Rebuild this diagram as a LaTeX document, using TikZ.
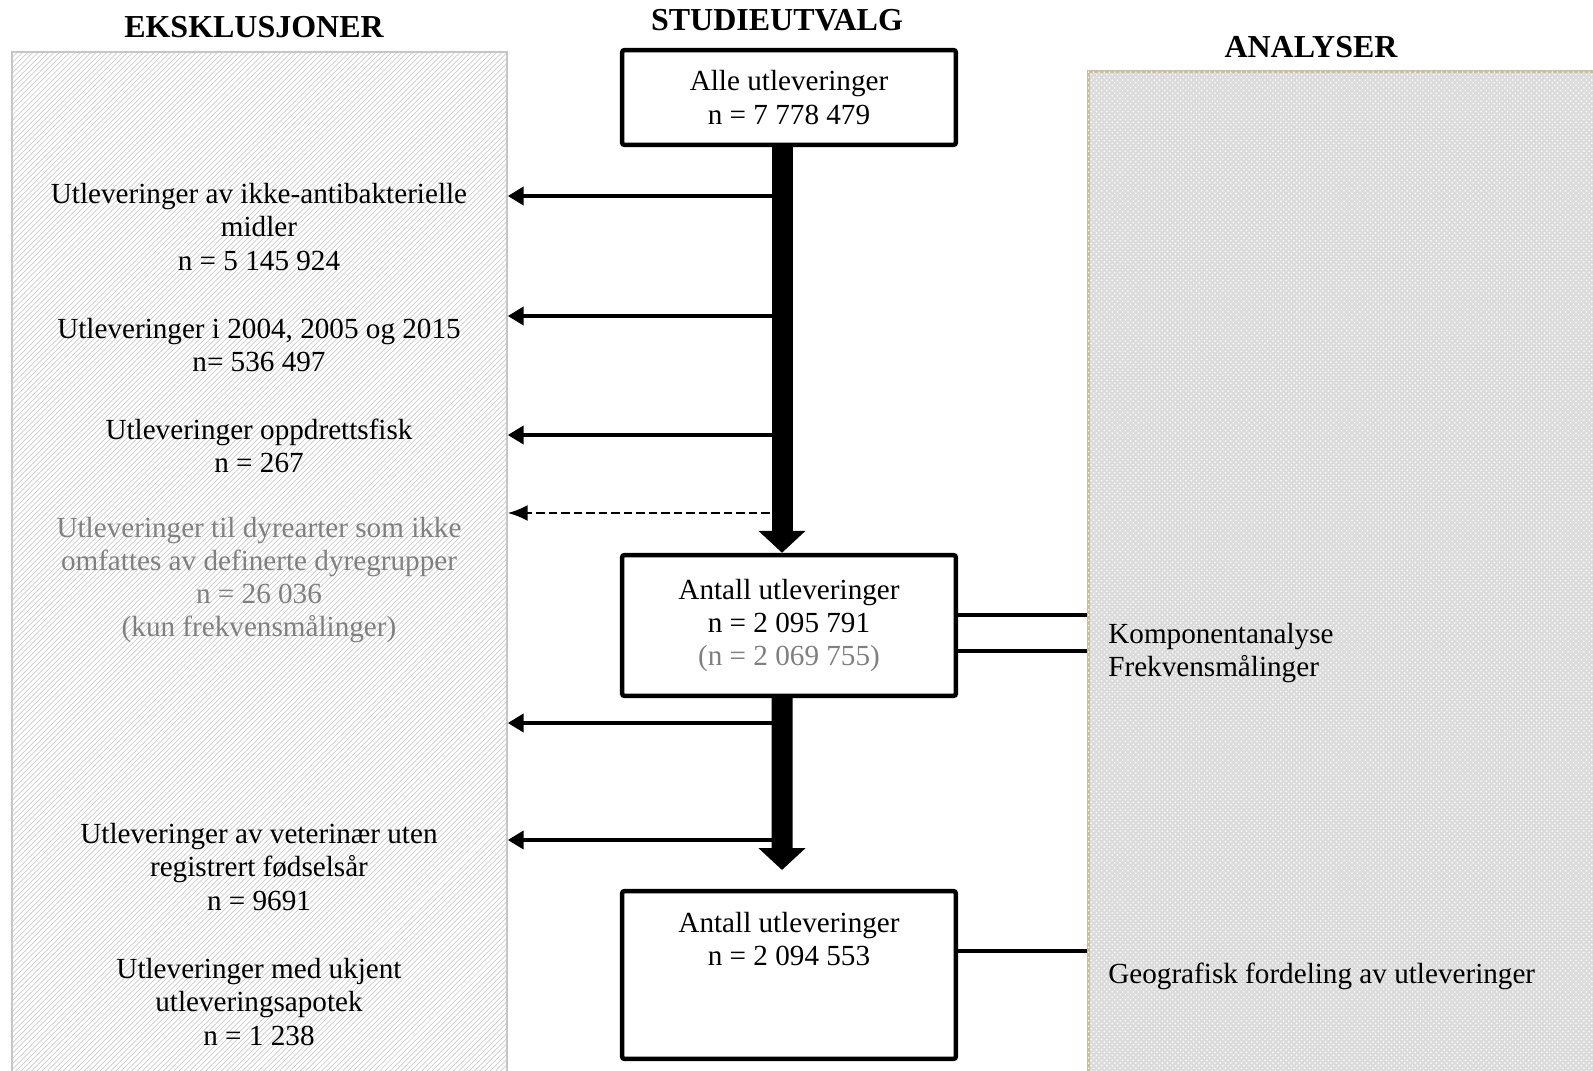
\documentclass[tikz,border=0pt]{standalone}
\usepackage{fontspec}
\setmainfont{Liberation Serif}
\usetikzlibrary{positioning,arrows.meta,patterns}
\definecolor{panelkant}{RGB}{200,191,156}

\begin{document}
\begin{tikzpicture}[x=0.02cm,y=-0.02cm,
  tekst/.style={align=center, inner sep=0pt, font=\fontsize{16.6}{18.9}\selectfont},
  tittel/.style={inner sep=0pt, font=\fontsize{18.2}{21}\selectfont\bfseries},
  boks/.style={draw, line width=0.09cm, rounded corners=1.5pt, minimum width=6.68cm, fill=white},
  pil/.style={line width=0.09cm, -{Triangle[length=0.32cm,width=0.36cm]}},
  stiplet/.style={line width=0.045cm, dash pattern=on 0.17cm off 0.08cm, -{Latex[length=0.4cm,width=0.32cm]}},
  tykkpil/.style={line width=0.42cm, -{Triangle[length=0.44cm,width=0.92cm]}},
  linje/.style={line width=0.09cm}]
\useasboundingbox (0,0) rectangle (1593,1071);

% bakgrunn
\node[draw=gray!45, line width=0.03cm, pattern=north east lines, pattern color=gray!40,
  minimum width=9.9cm, minimum height=20.96cm, inner sep=0pt] (eks) at (259.5,576) {};
\node[draw=panelkant, line width=0.06cm, fill=gray!28, postaction={pattern=crosshatch dots, pattern color=white},
  minimum width=11.04cm, minimum height=20.58cm, inner sep=0pt] (ana) at (1364,585.5) {};

\node[tittel] (t1) at (254,27) {EKSKLUSJONER};
\node[tittel] (t2) at (777,20) {STUDIEUTVALG};
\node[tittel] (t3) at (1311,47) {ANALYSER};

% studieutvalg
\node[boks, tekst, minimum height=1.9cm] (a1) at (789,97.5) {Alle utleveringer\\n = 7 778 479};
\node[boks, tekst, minimum height=2.82cm] (a2) at (789,625.5) {Antall utleveringer\\n = 2 095 791\\\textcolor{black!50}{(n = 2 069 755)}};
\node[boks, minimum height=3.36cm] (a3) at (789,975) {};
\node[tekst] (a3t) at (789,939) {Antall utleveringer\\n = 2 094 553};

% eksklusjoner
\node[tekst] (e1) at (259,227) {Utleveringer av ikke-antibakterielle\\midler\\n = 5 145 924};
\node[tekst] (e2) at (259,345) {Utleveringer i 2004, 2005 og 2015\\n= 536 497};
\node[tekst] (e3) at (259,446) {Utleveringer oppdrettsfisk\\n = 267};
\node[tekst, text=black!50] (e4) at (259,580) {Utleveringer til dyrearter som ikke\\omfattes av definerte dyregrupper\\n = 26 036\\(kun frekvensmålinger)};
\node[tekst] (e5) at (259,867) {Utleveringer av veterinær uten\\registrert fødselsår\\n = 9691};
\node[tekst] (e6) at (259,1002) {Utleveringer med ukjent\\utleveringsapotek\\n = 1 238};

% analyser
\node[tekst, align=left, anchor=west] (r1) at (1108,653) {Komponentanalyse\\Frekvensmålinger};
\node[tekst, anchor=west] (r2) at (1108,976) {Geografisk fordeling av utleveringer};

\coordinate (k1) at ([yshift=0.21cm]a2.east);
\coordinate (k2) at ([yshift=-0.51cm]a2.east);
\coordinate (k3) at ([yshift=0.48cm]a3.east);
\draw[linje] (k1) -- (k1 -| ana.west);
\draw[linje] (k2) -- (k2 -| ana.west);
\draw[linje] (k3) -- (k3 -| ana.west);

% piler
\coordinate (u1) at (782,196);
\coordinate (u2) at (782,316);
\coordinate (u3) at (782,435);
\coordinate (u0) at (782,513);
\coordinate (u4) at (782,723);
\coordinate (u5) at (782,840);
\draw[pil] (u1) -- (u1 -| eks.east);
\draw[pil] (u2) -- (u2 -| eks.east);
\draw[pil] (u3) -- (u3 -| eks.east);
\draw[stiplet] (u0) -- (u0 -| eks.east);
\draw[pil] (u4) -- (u4 -| eks.east);
\draw[pil] (u5) -- (u5 -| eks.east);

\coordinate (s2) at (782,870);
\draw[tykkpil] ([xshift=-0.14cm]a1.south) -- ([xshift=-0.14cm]a2.north);
\draw[tykkpil] ([xshift=-0.14cm]a2.south) -- (s2);
\end{tikzpicture}
\end{document}
